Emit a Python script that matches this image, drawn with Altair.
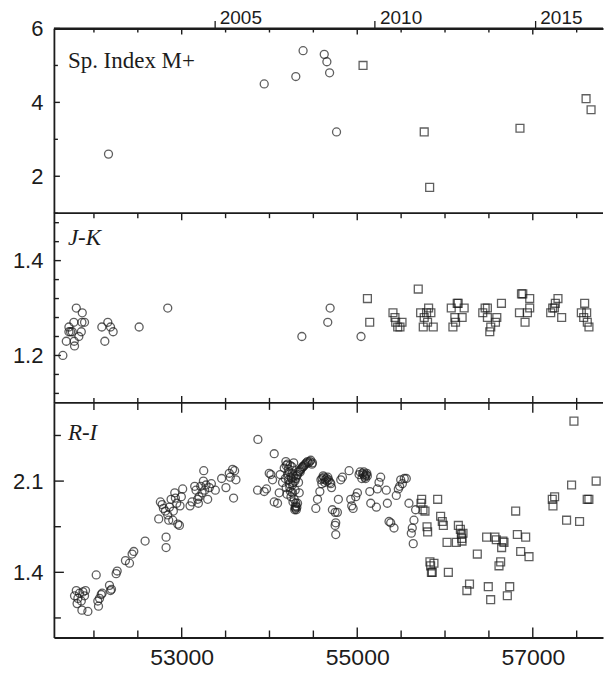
import altair as alt
import pandas as pd

# ---------------- data (MJD, value) ----------------
# Spectral index M+ : circles = earlier spectra, squares = later spectra
sp_circ_mjd = [52166, 53940, 54300, 54383, 54624, 54654, 54685, 54764]
sp_circ_val = [2.6, 4.5, 4.7, 5.4, 5.3, 5.1, 4.8, 3.2]
sp_sq_mjd = [55066, 55763, 55825, 56854, 57607, 57664]
sp_sq_val = [5.0, 3.2, 1.7, 3.3, 4.1, 3.8]

# J-K colour
jk_circ_mjd = [51646, 51685, 51715, 51715, 51734, 51753, 51771, 51775, 51779, 51799,
               51828, 51856, 51863, 51867, 51893, 52090, 52124, 52158, 52189, 52219,
               52515, 52841, 54369, 54664, 54691, 55043]
jk_circ_val = [1.20, 1.23, 1.26, 1.25, 1.25, 1.25, 1.27, 1.23, 1.22, 1.30,
               1.24, 1.25, 1.27, 1.29, 1.27, 1.26, 1.23, 1.27, 1.26, 1.25,
               1.26, 1.30, 1.24, 1.27, 1.30, 1.24]
jk_sq_mjd = [55116, 55142, 55695, 55407, 55430, 55438, 55461, 55487, 55510, 55722,
             55752, 55763, 55790, 55801, 55813, 55839, 55866, 56071, 56112, 56090,
             56139, 56150, 56195, 56218, 56120, 56430, 56457, 56483, 56483, 56521,
             56510, 56575, 56590, 56643, 56871, 56886, 56965, 56848, 56939, 56965,
             56912, 57204, 57227, 57246, 57257, 57287, 57329, 57553, 57591, 57614,
             57580, 57621, 57640]
jk_sq_val = [1.32, 1.27, 1.34, 1.29, 1.28, 1.27, 1.26, 1.26, 1.27, 1.29,
             1.26, 1.28, 1.29, 1.27, 1.30, 1.29, 1.26, 1.30, 1.28, 1.26,
             1.31, 1.31, 1.28, 1.30, 1.27, 1.29, 1.30, 1.30, 1.28, 1.26,
             1.25, 1.27, 1.28, 1.31, 1.33, 1.33, 1.32, 1.29, 1.29, 1.30,
             1.27, 1.29, 1.30, 1.30, 1.31, 1.32, 1.28, 1.29, 1.31, 1.29,
             1.28, 1.27, 1.26]

# R-I colour
ri_circ_mjd = [51779, 51799, 51817, 51836, 51856, 51874, 51893, 51863, 51931, 51904,
               51808, 52026, 52044, 52052, 52064, 52083, 52094, 52177, 52189, 52200,
               52253, 52265, 52359, 52405, 52435, 52454, 52583, 52738, 52757, 52777,
               52792, 52814, 52822, 52822, 52841, 52852, 52860, 52879, 52898, 52905,
               52921, 52928, 52943, 52955, 52974, 52981, 52996, 53011, 53095, 53118,
               53148, 53163, 53182, 53190, 53198, 53217, 53232, 53247, 53251, 53262,
               53277, 53296, 53315, 53338, 53383, 53455, 53504, 53542, 53553, 53580,
               53591, 53603, 53618, 53868, 53864, 53940, 53966, 53997, 54016, 54035,
               54054, 54054, 54092, 54111, 54122, 54149, 54168, 54187, 54206, 54217,
               54225, 54232, 54244, 54255, 54263, 54270, 54282, 54293, 54301, 54312,
               54320, 54331, 54339, 54350, 54369, 54385, 54408, 54434, 54461, 54484,
               54528, 54547, 54574, 54597, 54586, 54612, 54635, 54650, 54673, 54699,
               54707, 54717, 54748, 54755, 54748, 54755, 54785, 54774, 54812, 54831,
               54907, 54926, 54937, 54953, 54983, 55002, 55021, 55033, 55052, 55071,
               55090, 55109, 55143, 55154, 55218, 55229, 55248, 55267, 55331, 55343,
               55362, 55381, 55419, 55445, 55468, 55483, 55495, 55514, 55536, 55559,
               55589, 55616, 55627, 55638, 55646, 55665,
               54180, 54190, 54200, 54210, 54215, 54225, 54235, 54240, 54245, 54250,
               54258, 54262, 54268, 54272, 54276, 54288, 54292, 54296, 54300, 54306,
               54190, 54290, 54300, 54310, 54320, 54330, 54345, 54355, 54375, 54395,
               54420, 54445, 54470, 54490, 54600, 54620, 54630, 54655, 54665, 54690,
               55060, 55075, 55085, 55100, 55115, 55095]
ri_circ_val = [1.22, 1.26, 1.20, 1.24, 1.18, 1.25, 1.22, 1.11, 1.10, 1.26,
               1.16, 1.38, 1.18, 1.14, 1.20, 1.23, 1.24, 1.30, 1.26, 1.27,
               1.39, 1.41, 1.49, 1.47, 1.54, 1.56, 1.64, 1.81, 1.94, 1.92,
               1.89, 1.87, 1.67, 1.59, 1.84, 1.80, 1.90, 1.96, 1.80, 1.87,
               2.01, 1.97, 1.93, 1.77, 1.76, 1.91, 1.98, 2.04, 1.91, 1.94,
               2.06, 2.03, 1.96, 1.93, 1.98, 2.06, 2.01, 2.10, 2.18, 2.03,
               2.07, 1.96, 2.05, 2.08, 2.03, 2.12, 2.05, 2.16, 2.13, 2.19,
               1.97, 2.18, 2.11, 2.42, 2.03, 2.02, 2.04, 2.16, 2.15, 2.11,
               2.31, 1.94, 1.93, 2.01, 2.15, 2.09, 2.20, 2.25, 2.23, 2.11,
               2.17, 2.05, 2.13, 2.21, 2.01, 2.09, 1.96, 2.03, 1.91, 1.90,
               1.93, 2.09, 2.01, 2.17, 2.20, 2.21, 2.23, 2.25, 2.25, 2.23,
               1.89, 1.96, 2.02, 2.08, 2.11, 2.14, 2.11, 2.12, 2.11, 2.08,
               2.05, 1.88, 1.86, 1.78, 1.76, 1.69, 1.96, 1.86, 2.11, 2.13,
               2.18, 1.96, 1.91, 1.89, 1.98, 2.01, 2.15, 2.17, 2.12, 2.15,
               2.14, 2.16, 2.02, 1.93, 1.90, 2.04, 2.09, 2.13, 2.03, 1.93,
               1.79, 1.78, 1.74, 1.99, 2.04, 2.06, 2.11, 2.08, 2.12, 2.12,
               1.93, 1.70, 1.74, 1.62, 1.80, 1.88,
               2.12, 2.05, 2.00, 2.15, 2.19, 2.08, 2.22, 2.02, 1.98, 2.12,
               2.16, 2.07, 1.94, 2.14, 2.24, 1.88, 1.90, 1.89, 1.93, 1.88,
               2.22, 2.10, 2.12, 2.14, 2.15, 2.17, 2.18, 2.19, 2.21, 2.22,
               2.24, 2.24, 2.26, 2.24, 2.12, 2.13, 2.09, 2.10, 2.13, 2.09,
               2.16, 2.17, 2.13, 2.15, 2.14, 2.12]
ri_sq_mjd = [55734, 55726, 55749, 55772, 55795, 55802, 55828, 55836, 55855, 55874,
             55916, 55950, 55969, 55981, 56023, 56038, 56129, 56152, 56175, 56186,
             56194, 56205, 56249, 56279, 56368, 56474, 56493, 56520, 56569, 56584,
             56615, 56634, 56645, 56660, 56672, 56710, 56737, 56805, 56824, 56862,
             56919, 56957, 57222, 57230, 57249, 57385, 57442, 57469, 57533, 57620,
             57639, 57722, 55845, 56190]
ri_sq_val = [1.96, 1.93, 1.88, 1.87, 1.75, 1.71, 1.48, 1.45, 1.40, 1.47,
             1.96, 1.83, 1.79, 1.76, 1.63, 1.40, 1.63, 1.76, 1.73, 1.69,
             1.64, 1.70, 1.26, 1.31, 1.54, 1.67, 1.29, 1.19, 1.67, 1.65,
             1.45, 1.48, 1.59, 1.64, 1.63, 1.22, 1.29, 1.87, 1.69, 1.56,
             1.67, 1.52, 1.96, 1.91, 1.98, 1.80, 2.07, 2.56, 1.79, 1.96,
             1.96, 2.10, 1.40, 1.66]

# ---------------- axis settings ----------------
x_domain = [51544, 57800]
x_minor_ticks = [52000, 52500, 53000, 53500, 54000, 54500, 55000, 55500,
                 56000, 56500, 57000, 57500]
x_major_ticks = [53000, 55000, 57000]
year_mjd = [53371, 55197, 57023]          # 1 Jan of 2005, 2010, 2015

sp_domain, sp_labels, sp_ticks = [1, 6], [2, 4, 6], [1, 2, 3, 4, 5, 6]
jk_domain, jk_labels = [1.1, 1.5], [1.2, 1.4]
jk_ticks = [1.12, 1.16, 1.2, 1.24, 1.28, 1.32, 1.36, 1.4, 1.44, 1.48]
ri_domain, ri_labels = [0.9, 2.7], [1.4, 2.1]
ri_ticks = [1.05, 1.4, 1.75, 2.1, 2.45]

PLOT_W = 550
INK = "#1c1c1c"
SANS = "Liberation Sans"
SERIF = "Liberation Serif"

x_scale = alt.Scale(domain=x_domain, nice=False, zero=False)


def panel(circ_mjd, circ_val, sq_mjd, sq_val, y_domain, y_labels, y_fmt, y_ticks,
          height, label, italic, label_y, tick_len, x_axis, bottom_ticks):
    circ = pd.DataFrame({"mjd": circ_mjd, "val": circ_val})
    sq = pd.DataFrame({"mjd": sq_mjd, "val": sq_val})
    y_axis = alt.Axis(values=y_labels, format=y_fmt, ticks=False, tickSize=0,
                      labelPadding=11, labelFontSize=22, labelFont=SANS,
                      labelColor=INK, labelFlush=False, domainColor=INK,
                      domainWidth=1.8, grid=False, title=None)
    x_enc = alt.X("mjd:Q", scale=x_scale, axis=x_axis)
    y_enc = alt.Y("val:Q", scale=alt.Scale(domain=y_domain, nice=False, zero=False),
                  axis=y_axis)
    major_len, minor_len = tick_len

    circles = alt.Chart(circ).mark_point(
        shape="circle", size=64, filled=False, stroke=INK, strokeWidth=1.3
    ).encode(x=x_enc, y=y_enc)
    squares = alt.Chart(sq).mark_point(
        shape="square", size=62, filled=False, stroke=INK, strokeWidth=1.3
    ).encode(x=x_enc, y=y_enc)

    rule = dict(color=INK, strokeWidth=1.4)
    y_major = pd.DataFrame({"val": y_labels})
    y_minor = pd.DataFrame({"val": [v for v in y_ticks if v not in y_labels]})
    left_major = alt.Chart(y_major).mark_rule(**rule).encode(
        y=y_enc, x=alt.value(0), x2=alt.value(major_len))
    left_minor = alt.Chart(y_minor).mark_rule(**rule).encode(
        y=y_enc, x=alt.value(0), x2=alt.value(minor_len))

    xt_major = pd.DataFrame({"mjd": x_major_ticks})
    xt_minor = pd.DataFrame({"mjd": [m for m in x_minor_ticks if m not in x_major_ticks]})
    top_major = alt.Chart(xt_major).mark_rule(**rule).encode(
        x=x_enc, y=alt.value(0), y2=alt.value(major_len))
    top_minor = alt.Chart(xt_minor).mark_rule(**rule).encode(
        x=x_enc, y=alt.value(0), y2=alt.value(minor_len))

    top_line = alt.Chart(pd.DataFrame({"edge": [0]})).mark_rule(
        color=INK, strokeWidth=1.8
    ).encode(x=alt.value(0), x2=alt.value(PLOT_W), y=alt.value(0))

    title = alt.Chart(pd.DataFrame({"name": [label]})).mark_text(
        align="left", baseline="alphabetic", font=SERIF, fontSize=23,
        fontStyle="italic" if italic else "normal", color=INK
    ).encode(x=alt.value(14), y=alt.value(label_y), text="name:N")

    layers = [top_line, left_major, left_minor, top_major, top_minor]
    if bottom_ticks:
        layers += [
            alt.Chart(xt_major).mark_rule(**rule).encode(
                x=x_enc, y=alt.value(height), y2=alt.value(height - major_len)),
            alt.Chart(xt_minor).mark_rule(**rule).encode(
                x=x_enc, y=alt.value(height), y2=alt.value(height - minor_len)),
        ]
    layers += [circles, squares, title]
    return alt.layer(*layers).properties(width=PLOT_W, height=height)


year_axis = alt.Axis(
    orient="top", values=year_mjd,
    labelExpr="datum.value < 54000 ? '2005' : datum.value < 56000 ? '2010' : '2015'",
    ticks=True, tickSize=8, tickColor=INK, tickWidth=1.3,
    labelAlign="left", labelBaseline="alphabetic", labelPadding=-3, labelOffset=5,
    labelFontSize=19, labelFont=SANS, labelColor=INK, labelFlush=False,
    labelOverlap=False, domainColor=INK, domainWidth=1.8, grid=False, title=None)

mjd_axis = alt.Axis(
    orient="bottom", values=x_major_ticks, format="d", ticks=False, tickSize=0,
    labelPadding=9, labelFontSize=23, labelFont=SANS, labelColor=INK,
    labelFlush=False, domainColor=INK, domainWidth=1.8, grid=False, title=None)

sp_panel = panel(sp_circ_mjd, sp_circ_val, sp_sq_mjd, sp_sq_val, sp_domain, sp_labels,
                 "d", sp_ticks, 185, "Sp. Index M+", False, 40, (6, 4), year_axis, False)
jk_panel = panel(jk_circ_mjd, jk_circ_val, jk_sq_mjd, jk_sq_val, jk_domain, jk_labels,
                 ".1f", jk_ticks, 190, "J-K", True, 32, (7, 5), None, True)
ri_panel = panel(ri_circ_mjd, ri_circ_val, ri_sq_mjd, ri_sq_val, ri_domain, ri_labels,
                 ".1f", ri_ticks, 235, "R-I", True, 37, (10, 7), mjd_axis, True)

chart = alt.vconcat(
    sp_panel, jk_panel, ri_panel, spacing=0, bounds="flush"
).configure_view(stroke=None).properties(
    padding={"left": 12, "top": 8, "right": 0, "bottom": 0}
)

chart.save("out.html", embed_options={"renderer": "svg", "actions": False})
